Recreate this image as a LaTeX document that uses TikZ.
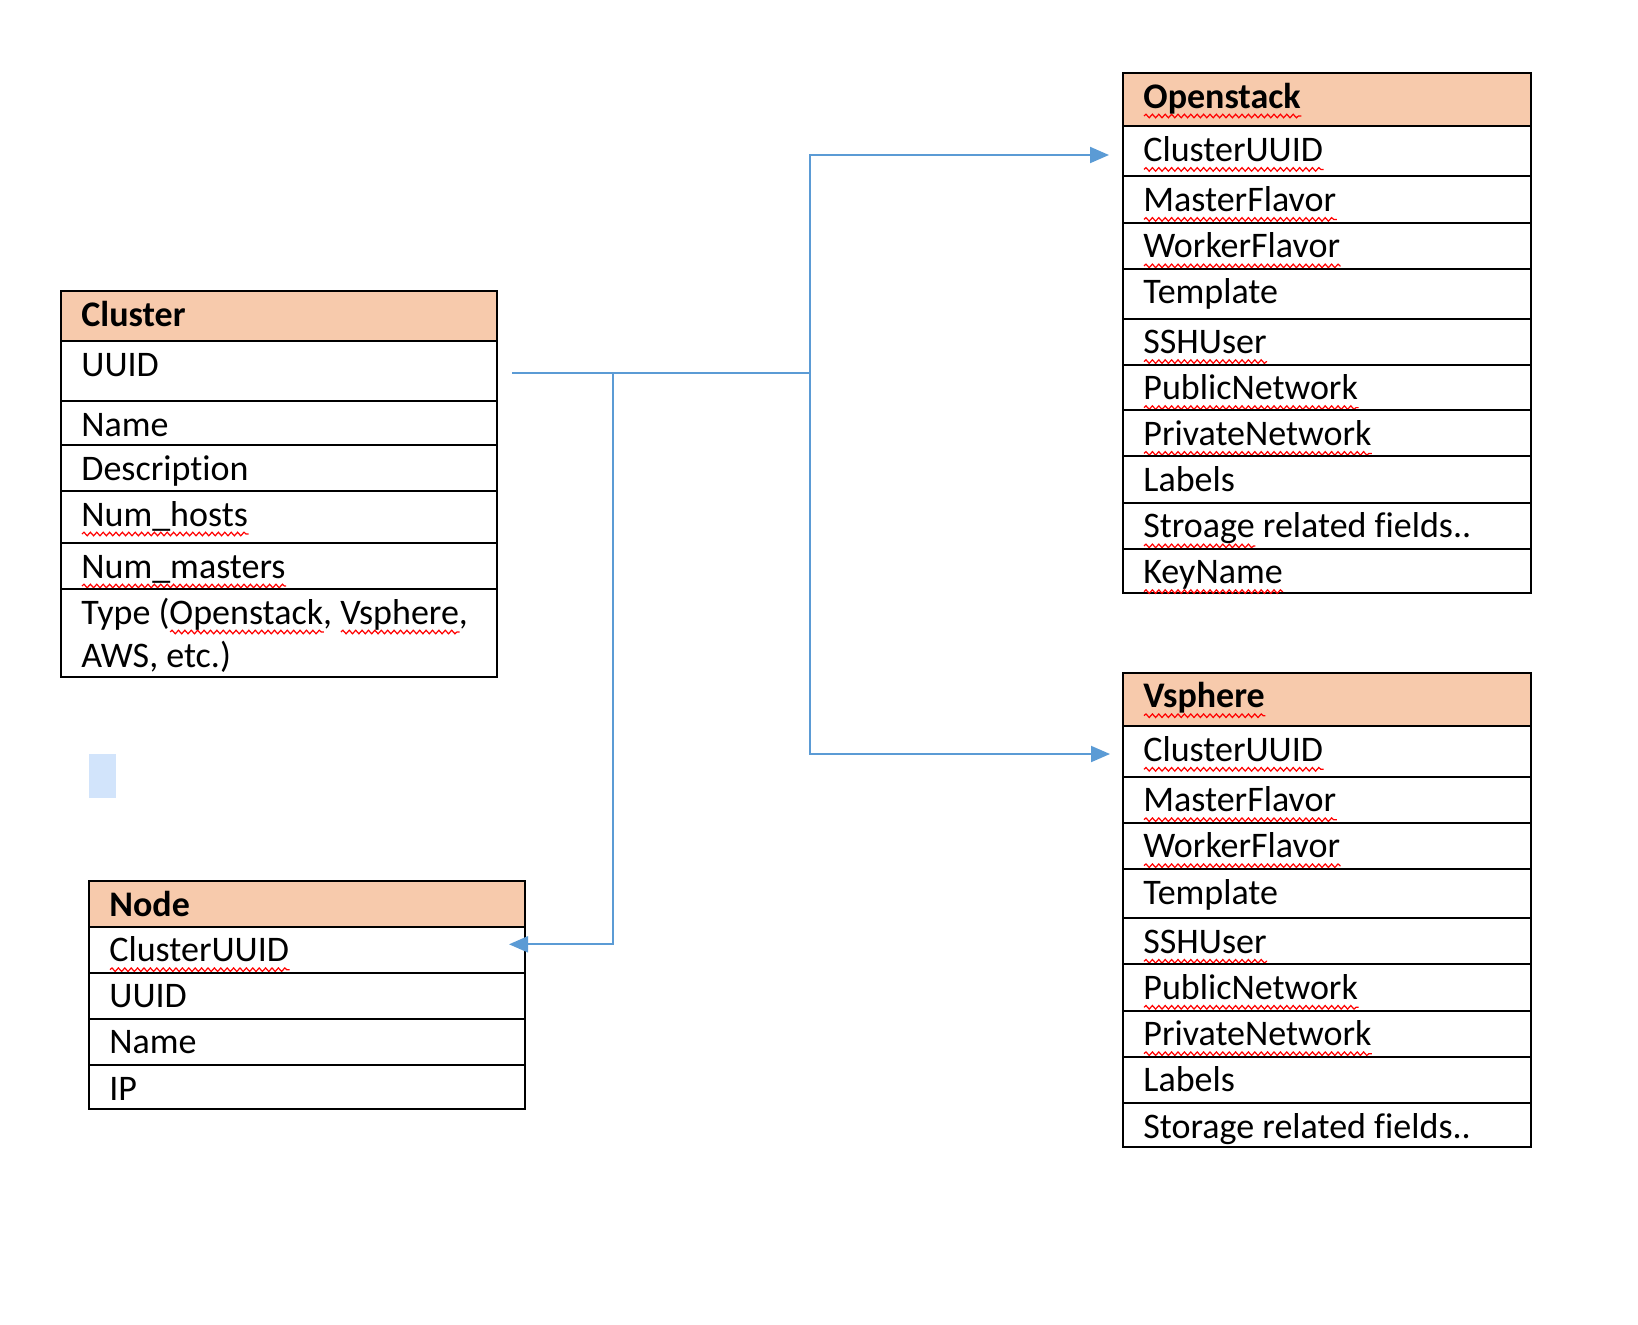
\documentclass[tikz,border=0pt]{standalone}
\usepackage{fontspec}
\setmainfont{Carlito}[Ligatures=NoCommon]
\usetikzlibrary{arrows.meta,calc,positioning,decorations.pathmorphing}
\definecolor{hdr}{HTML}{F7CAAC}
\definecolor{lnk}{HTML}{5B9BD5}
\definecolor{selbox}{HTML}{D2E4FB}
\newsavebox\spellbox
\newcommand\spell[1]{\sbox\spellbox{#1}\rlap{\tikz[baseline=0pt]\draw[red,line width=0.6pt,decorate,decoration={snake,amplitude=0.9pt,segment length=3.2pt}] (0pt,-4pt) -- (\wd\spellbox,-4pt);}\usebox\spellbox}

\begin{document}
\begin{tikzpicture}[x=0.5pt,y=-0.5pt,
  field/.style={draw=black,line width=1pt,inner sep=0pt,outer sep=0pt},
  entry/.style={anchor=base west,inner sep=0pt,font=\fontsize{18}{21.7}\selectfont},
  link/.style={draw=lnk,line width=1pt},
  tip/.style={-{Triangle[length=9.5pt,width=8pt]}}]

\useasboundingbox (0,0) rectangle (1638,1324);

% rows of each table: label/top/bottom
\def\clusterRows{{\textbf{Cluster}}/291/341, UUID/341/401, Name/401/445, Description/445/491,
  {\spell{Num\_hosts}}/491/543, {\spell{Num\_masters}}/543/589,
  {\vtop{\hbox{Type (\spell{Openstack}, \spell{Vsphere},}\hbox{AWS, etc.)}}}/589/677}
\def\nodeRows{{\textbf{Node}}/881/926.7, {\spell{ClusterUUID}}/926.7/972.7, UUID/972.7/1018.7,
  Name/1018.7/1065, IP/1065/1109}
\def\osRows{{\textbf{\spell{Openstack}}}/73/126.4, {\spell{ClusterUUID}}/126.4/176.4,
  {\spell{MasterFlavor}}/176.4/222.9, {\spell{WorkerFlavor}}/222.9/268.6, Template/268.6/318.6,
  {\spell{SSHUser}}/318.6/364.6, {\spell{PublicNetwork}}/364.6/410.4,
  {\spell{PrivateNetwork}}/410.4/456.4, Labels/456.4/502.9,
  {\spell{Stroage} related fields..}/502.9/548.6, {\spell{KeyName}}/548.6/593}
\def\vsRows{{\textbf{\spell{Vsphere}}}/672.7/726.3, {\spell{ClusterUUID}}/726.3/776.7,
  {\spell{MasterFlavor}}/776.7/822.7, {\spell{WorkerFlavor}}/822.7/869, Template/869/918.3,
  {\spell{SSHUser}}/918.3/964.3, {\spell{PublicNetwork}}/964.3/1010.7,
  {\spell{PrivateNetwork}}/1010.7/1056.7, Labels/1056.7/1103.3,
  Storage related fields../1103.3/1147}

% draw the tables
\foreach \lbl/\top/\bot [count=\i] in \clusterRows
{
  \ifnum\i=1 \def\rowfill{hdr}\else\def\rowfill{white}\fi
  \node[field,fill=\rowfill,minimum width=218pt,minimum height={(\bot-\top)*0.5pt}] (cl\i) at (279,{(\top+\bot)/2}) {};
  \node[entry] (cl\i txt) at ([xshift=10pt,yshift=-17.5pt]cl\i.north west) {\lbl};
}
\foreach \lbl/\top/\bot [count=\i] in \nodeRows
{
  \ifnum\i=1 \def\rowfill{hdr}\else\def\rowfill{white}\fi
  \node[field,fill=\rowfill,minimum width=218pt,minimum height={(\bot-\top)*0.5pt}] (nd\i) at (307,{(\top+\bot)/2}) {};
  \node[entry] (nd\i txt) at ([xshift=10pt,yshift=-17.5pt]nd\i.north west) {\lbl};
}
\foreach \lbl/\top/\bot [count=\i] in \osRows
{
  \ifnum\i=1 \def\rowfill{hdr}\else\def\rowfill{white}\fi
  \node[field,fill=\rowfill,minimum width=204pt,minimum height={(\bot-\top)*0.5pt}] (os\i) at (1327,{(\top+\bot)/2}) {};
  \node[entry] (os\i txt) at ([xshift=10pt,yshift=-17.5pt]os\i.north west) {\lbl};
}
\foreach \lbl/\top/\bot [count=\i] in \vsRows
{
  \ifnum\i=1 \def\rowfill{hdr}\else\def\rowfill{white}\fi
  \node[field,fill=\rowfill,minimum width=204pt,minimum height={(\bot-\top)*0.5pt}] (vs\i) at (1327,{(\top+\bot)/2}) {};
  \node[entry] (vs\i txt) at ([xshift=10pt,yshift=-17.5pt]vs\i.north west) {\lbl};
}

% the little selection mark
\fill[selbox] (89,754) rectangle (116,797.5);

% draw the links
\coordinate (src) at ([xshift=7.5pt,yshift=-0.75pt]cl2.east);
\coordinate (jn) at (613,372.5);
\coordinate (jo) at (810,372.5);
\draw[link] (src) -- (jo);
\draw[link,tip] (jo) |- ([xshift=-7pt,yshift=-1.8pt]os2.west);
\draw[link,tip] (jo) |- ([xshift=-6.5pt,yshift=-1.25pt]vs2.west);
\draw[link,tip] (jn) |- ([xshift=-8pt,yshift=2.7pt]nd2.east);
\end{tikzpicture}
\end{document}
